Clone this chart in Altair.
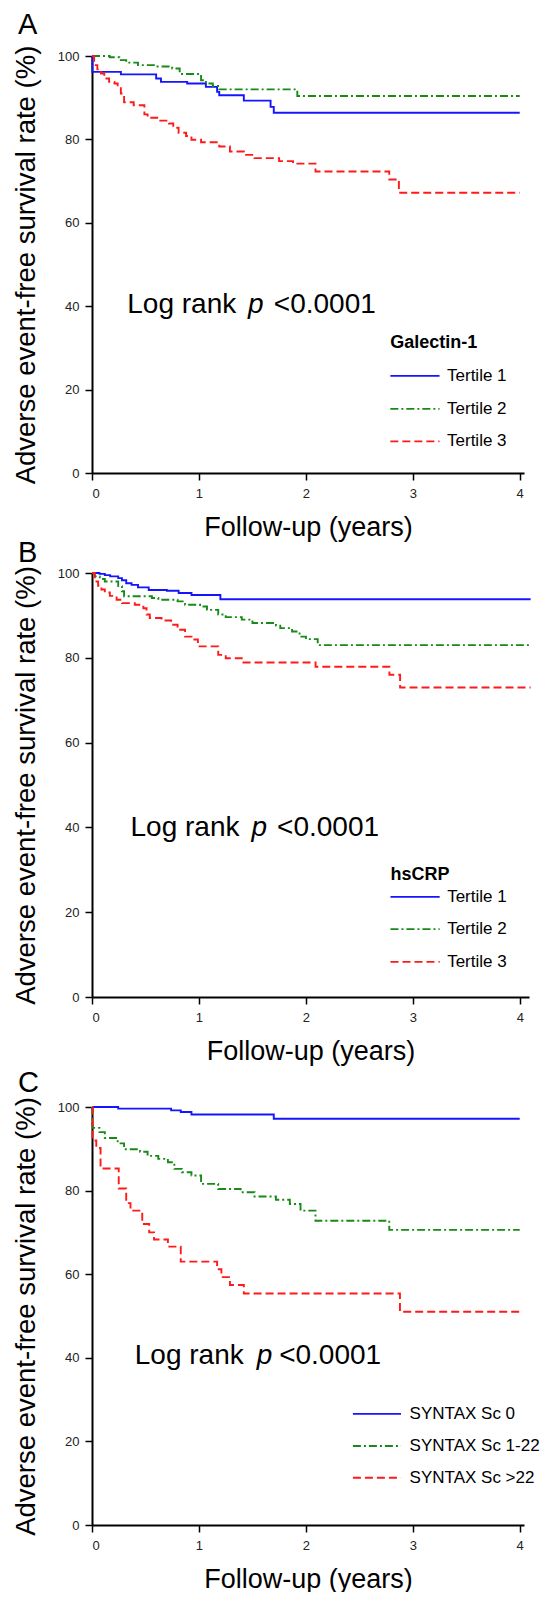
import altair as alt
import pandas as pd

FONT = "Liberation Sans"

# ---------------- Panel A (Galectin-1) ----------------
a_names = ["Tertile 1", "Tertile 2", "Tertile 3"]
a_t1_t = [0, 0.003, 0.27, 0.60, 0.645, 0.89, 1.065, 1.17, 1.19, 1.42, 1.67, 1.70, 4.0]
a_t1_s = [100, 96.2, 95.6, 94.6, 93.8, 93.4, 92.6, 91.4, 90.6, 89.3, 87.8, 86.4, 86.4]
a_t2_t = [0, 0.165, 0.255, 0.32, 0.43, 0.60, 0.75, 0.82, 1.02, 1.065, 1.13, 1.19, 1.92, 4.0]
a_t2_s = [100, 99.7, 99.0, 98.4, 97.8, 97.5, 97.0, 95.7, 94.2, 93.4, 92.8, 92.0, 90.4, 90.4]
a_t3_t = [0, 0.02, 0.05, 0.084, 0.115, 0.16, 0.21, 0.24, 0.27, 0.30, 0.39, 0.49, 0.52,
          0.61, 0.72, 0.76, 0.81, 0.88, 0.93, 1.02, 1.19, 1.29, 1.42, 1.52, 1.75, 1.88,
          2.09, 2.78, 2.87, 4.0]
a_t3_s = [100, 97.8, 96.8, 95.8, 94.6, 93.8, 93.4, 92.6, 91.0, 88.9, 88.2, 86.0, 85.2,
          84.5, 83.8, 82.8, 81.6, 80.8, 79.9, 79.3, 78.3, 77.1, 76.3, 75.5, 74.8, 74.2,
          72.3, 70.4, 67.2, 67.2]

# ---------------- Panel B (hsCRP) ----------------
b_names = ["Tertile 1", "Tertile 2", "Tertile 3"]
b_t1_t = [0, 0.07, 0.12, 0.17, 0.245, 0.28, 0.32, 0.37, 0.43, 0.53, 0.70, 0.81, 0.93, 1.20, 4.1]
b_t1_s = [100, 99.8, 99.5, 99.2, 98.8, 98.3, 97.6, 97.2, 96.6, 96.0, 95.8, 95.3, 94.8, 93.8, 93.8]
b_t2_t = [0, 0.026, 0.073, 0.12, 0.245, 0.28, 0.30, 0.56, 0.62, 0.80, 0.87, 1.01, 1.075,
          1.18, 1.25, 1.40, 1.50, 1.72, 1.76, 1.87, 1.94, 2.0, 2.11, 4.1]
b_t2_s = [100, 99.2, 98.6, 98.0, 96.9, 95.7, 94.5, 94.1, 93.7, 93.3, 92.5, 92.1, 91.3,
          90.2, 89.6, 89.0, 88.2, 87.6, 87.0, 86.2, 85.0, 84.4, 83.0, 83.0]
b_t3_t = [0, 0.026, 0.057, 0.088, 0.12, 0.167, 0.23, 0.28, 0.40, 0.48, 0.51, 0.54, 0.65,
          0.74, 0.80, 0.87, 0.93, 0.99, 1.18, 1.25, 1.40, 2.09, 2.78, 2.88, 4.1]
b_t3_s = [100, 98.0, 97.0, 96.1, 95.4, 94.6, 93.7, 92.9, 92.5, 91.7, 90.2, 89.4, 88.8,
          87.8, 86.6, 85.0, 84.3, 82.7, 80.7, 79.9, 78.9, 77.9, 76.0, 73.0, 73.0]

# ---------------- Panel C (SYNTAX score) ----------------
c_names = ["SYNTAX Sc 0", "SYNTAX Sc 1-22", "SYNTAX Sc >22"]
c_t1_t = [0, 0.245, 0.74, 0.83, 0.93, 1.70, 4.0]
c_t1_s = [100, 99.6, 99.2, 98.8, 98.2, 97.2, 97.2]
c_t2_t = [0, 0.004, 0.07, 0.12, 0.24, 0.30, 0.45, 0.52, 0.62, 0.71, 0.77, 0.84, 0.93,
          1.02, 1.18, 1.39, 1.52, 1.72, 1.85, 1.95, 2.09, 2.78, 4.0]
c_t2_s = [100, 95.0, 94.0, 92.6, 91.3, 89.9, 89.3, 88.3, 87.6, 86.8, 85.2, 84.4, 83.6,
          81.6, 80.4, 79.6, 78.6, 77.8, 76.8, 75.2, 72.8, 70.6, 70.6]
c_t3_t = [0, 0.005, 0.04, 0.08, 0.25, 0.32, 0.36, 0.47, 0.535, 0.58, 0.71, 0.83, 1.17,
          1.21, 1.29, 1.42, 2.88, 4.0]
c_t3_s = [100, 92.0, 90.2, 85.3, 80.5, 77.0, 75.2, 72.0, 70.0, 68.3, 66.6, 63.0, 61.2,
          59.3, 57.4, 55.4, 51.0, 51.0]

DASHES = [[1, 0], [8, 3, 2, 3], [8, 4]]
COL_A = ["#1414ff", "#178a17", "#ff1a1a"]
COL_B = ["#2c2cb8", "#178a17", "#ff1a1a"]
COL_C = ["#1414ff", "#178a17", "#ff1a1a"]


def curves_df(names, ts, ss):
    rows = []
    for name, t, s in zip(names, ts, ss):
        for i, (ti, si) in enumerate(zip(t, s)):
            rows.append({"x": ti, "y": si, "series": name, "i": i})
    return pd.DataFrame(rows)


def panel(letter, names, ts, ss, colors, xmax, width, height,
          leg_title, leg_title_y, leg_y, leg_x1, leg_x2, leg_tx,
          lr_x, lr_y, title_offset):
    xs = alt.Scale(domain=[0, xmax], nice=False, zero=False)
    ys = alt.Scale(domain=[0, 100], nice=False)
    xax = alt.Axis(values=[0, 1, 2, 3, 4], format="d", title="Follow-up (years)")
    yax = alt.Axis(values=[0, 20, 40, 60, 80, 100], format="d",
                   title="Adverse event-free survival rate (%)")
    cs = alt.Scale(domain=names, range=colors)
    ds = alt.Scale(domain=names, range=DASHES)

    X = alt.X("x:Q", scale=xs, axis=xax)
    Y = alt.Y("y:Q", scale=ys, axis=yax)

    lines = alt.Chart(curves_df(names, ts, ss)).mark_line(
        interpolate="step-after", strokeWidth=1.9
    ).encode(
        x=X, y=Y,
        color=alt.Color("series:N", scale=cs, legend=None),
        strokeDash=alt.StrokeDash("series:N", scale=ds, legend=None),
        order=alt.Order("i:Q"),
    )

    leg_df = pd.DataFrame({"x": [leg_x1] * 3, "x2": [leg_x2] * 3, "y": leg_y,
                           "series": names, "label": names, "tx": [leg_tx] * 3})
    leg_rules = alt.Chart(leg_df).mark_rule(strokeWidth=1.8).encode(
        x=X, x2="x2:Q", y=Y,
        color=alt.Color("series:N", scale=cs, legend=None),
        strokeDash=alt.StrokeDash("series:N", scale=ds, legend=None),
    )
    leg_text = alt.Chart(leg_df).mark_text(
        align="left", baseline="middle", fontSize=17, font=FONT, color="black"
    ).encode(x=alt.X("tx:Q", scale=xs, axis=xax), y=Y, text="label:N")

    layers = [lines, leg_rules, leg_text]

    if leg_title:
        lt_df = pd.DataFrame({"x": [leg_x1], "y": [leg_title_y], "label": [leg_title]})
        layers.append(alt.Chart(lt_df).mark_text(
            align="left", baseline="middle", fontSize=18, font=FONT,
            fontWeight="bold", color="black"
        ).encode(x=X, y=Y, text="label:N"))

    lr_parts = ["Log rank", "p", "<0.0001"]
    lr_style = ["normal", "italic", "normal"]
    for part, xx, st in zip(lr_parts, lr_x, lr_style):
        d = pd.DataFrame({"x": [xx], "y": [lr_y], "label": [part]})
        layers.append(alt.Chart(d).mark_text(
            align="left", baseline="alphabetic", fontSize=28, font=FONT,
            fontStyle=st, color="black"
        ).encode(x=X, y=Y, text="label:N"))

    return alt.layer(*layers).properties(
        width=width, height=height,
        title=alt.TitleParams(letter, anchor="start", frame="group", dx=-74,
                              offset=title_offset, fontSize=29, font=FONT,
                              fontWeight="normal", baseline="alphabetic",
                              color="black"),
    )


pA = panel("A", a_names, [a_t1_t, a_t2_t, a_t3_t], [a_t1_s, a_t2_s, a_t3_s], COL_A,
           4.04, 432, 417, "Galectin-1", 31.2, [23.3, 15.4, 7.6], 2.79, 3.25, 3.32,
           [0.33, 1.46, 1.70], 38.3, -18)
pB = panel("B", b_names, [b_t1_t, b_t2_t, b_t3_t], [b_t1_s, b_t2_s, b_t3_s], COL_B,
           4.085, 437, 424, "hsCRP", 28.8, [23.6, 16.0, 8.3], 2.79, 3.25, 3.32,
           [0.36, 1.49, 1.73], 37.9, -25)
pC = panel("C", c_names, [c_t1_t, c_t2_t, c_t3_t], [c_t1_s, c_t2_s, c_t3_s], COL_C,
           4.04, 432, 418, "", 0, [26.6, 18.9, 11.3], 2.44, 2.89, 2.97,
           [0.40, 1.54, 1.75], 38.5, -24)

lower = alt.vconcat(pB, pC, spacing=110, bounds="flush")
chart = alt.vconcat(pA, lower, spacing=100, bounds="flush").properties(
    padding={"left": 4, "top": 3, "right": 0, "bottom": 0}
).configure_view(strokeWidth=0).configure_axis(
    grid=False,
    domainColor="black", domainWidth=2,
    tickColor="black", tickWidth=1.5, tickSize=7,
    labelFont=FONT, labelFontSize=13, labelColor="#222222",
    titleFont=FONT, titleFontWeight="normal", titleColor="black",
).configure_axisX(labelPadding=7, titlePadding=14, titleFontSize=27).configure_axisY(
    labelPadding=6, titlePadding=17, titleFontSize=27.5
)

chart.save("out.html", embed_options={"renderer": "svg", "actions": False})
